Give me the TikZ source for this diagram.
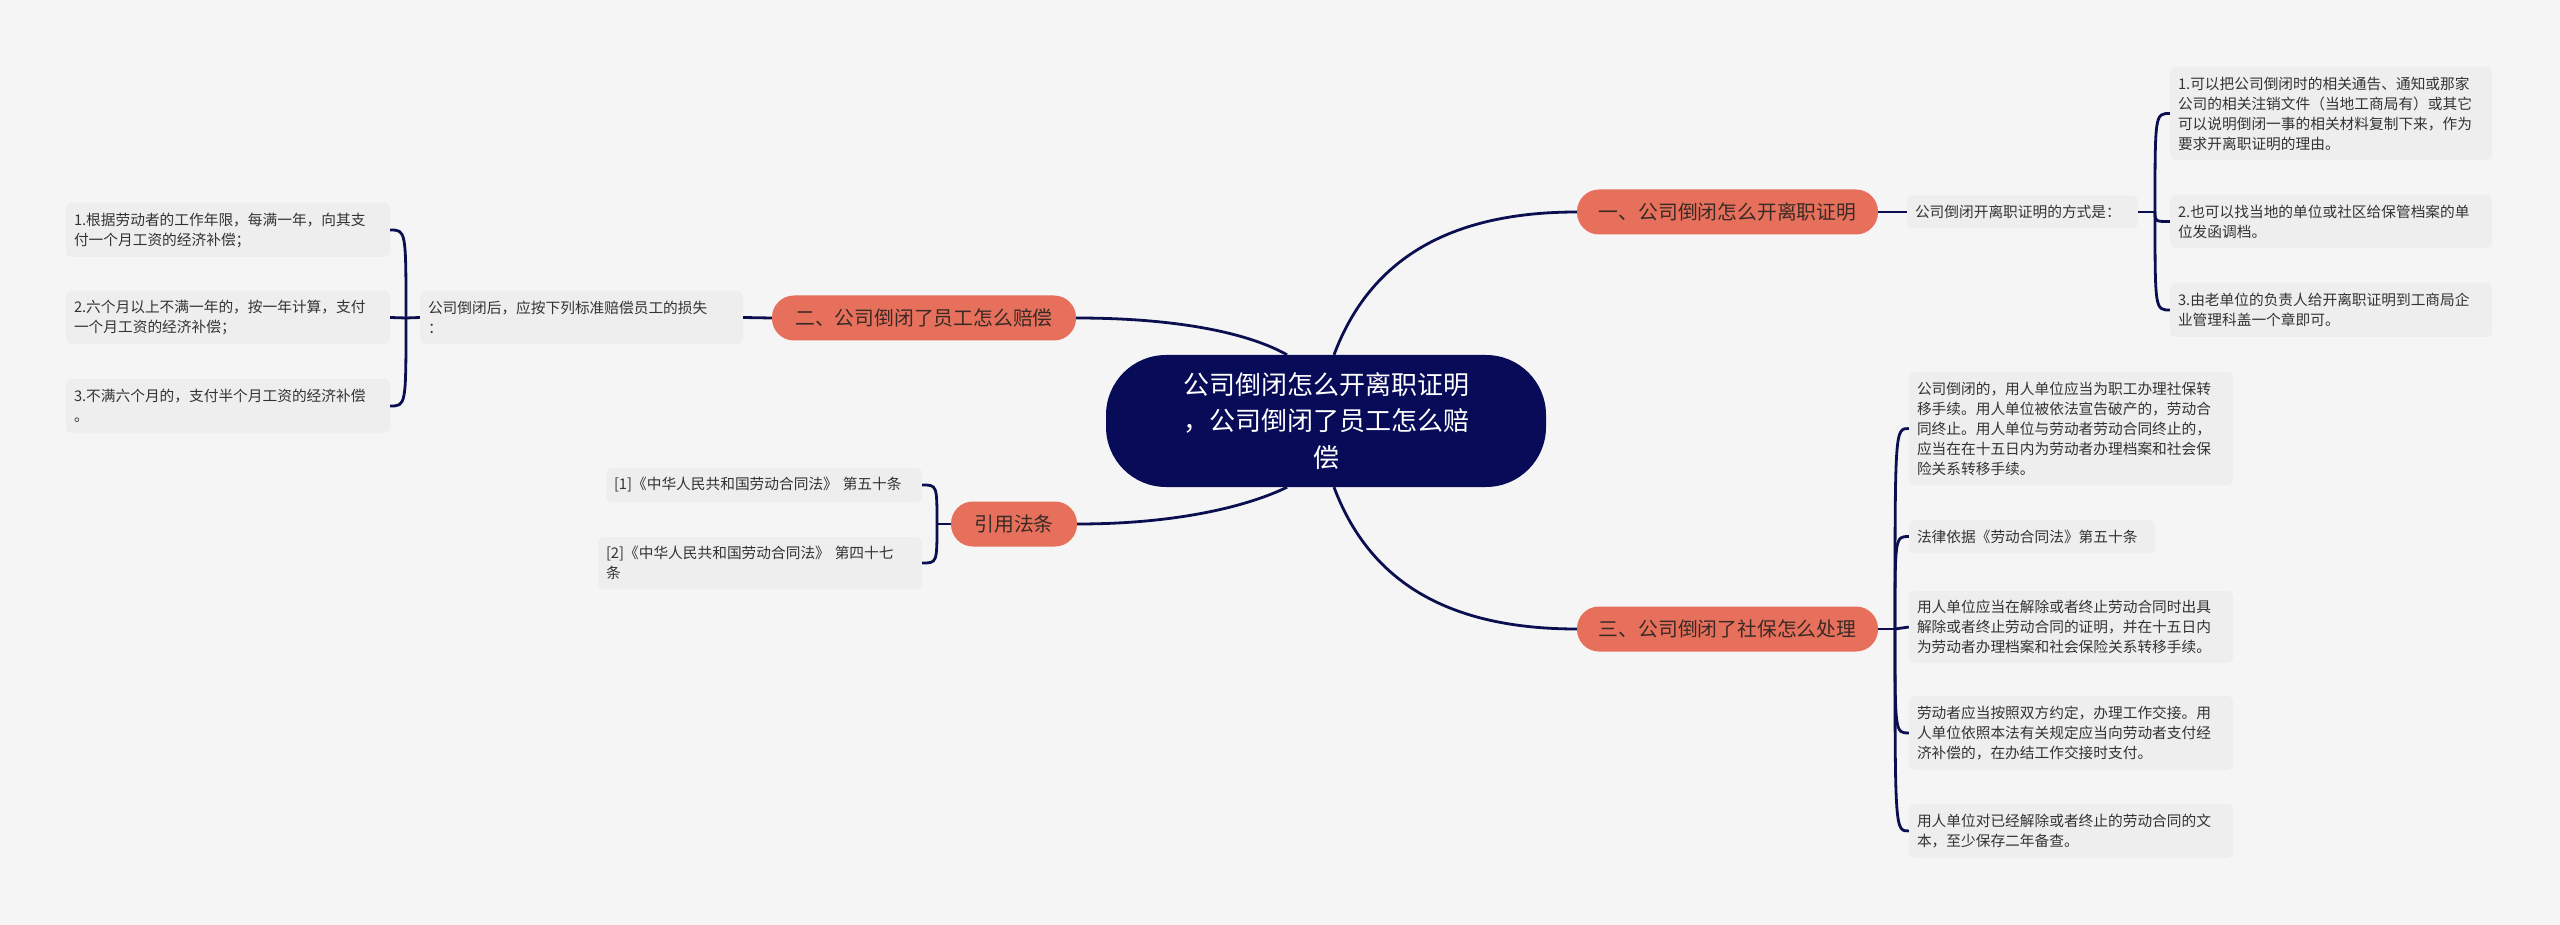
\documentclass[tikz,border=0pt]{standalone}
\usepackage{fontspec}
\newfontfamily\cjk{Noto Sans CJK SC}
\usetikzlibrary{calc}
\definecolor{bgc}{HTML}{F5F5F5}
\definecolor{leaff}{HTML}{EEEEEE}
\definecolor{leaft}{HTML}{333333}
\definecolor{brf}{HTML}{E6705B}
\definecolor{brt}{HTML}{3A2A26}
\definecolor{rootf}{HTML}{080C58}
\definecolor{linec}{HTML}{0B0F50}
\newcommand{\leaffont}{\cjk\fontsize{14.7}{20}\selectfont}
\newcommand{\brfont}{\cjk\fontsize{19.8}{24}\selectfont}
\newcommand{\rootfont}{\cjk\fontsize{26}{36.5}\selectfont}
\tikzset{
  conn/.style={draw=linec, line width=2.8pt},
  leaf/.style={fill=leaff, rounded corners=6pt, text=leaft, font=\leaffont,
    align=left, inner xsep=8pt, inner ysep=0pt},
  branchbox/.style={fill=brf, rounded corners=22pt, text=brt, font=\brfont,
    minimum height=45pt, inner sep=0pt, align=center},
  rootbox/.style={fill=rootf, rounded corners=60pt, text=white, font=\rootfont,
    minimum width=440pt, minimum height=132pt, inner sep=0pt, align=center},
}
\begin{document}
\begin{tikzpicture}[x=1pt,y=-1pt]
\useasboundingbox (0,0) rectangle (2560,925);
\fill[bgc] (0,0) rectangle (2560,925);

% root
\node[rootbox] (root) at (1326,421) {公司倒闭怎么开离职证明\\，公司倒闭了员工怎么赔\\偿};

% branches
\node[branchbox, minimum width=301pt] (b1) at (1727.5,212) {一、公司倒闭怎么开离职证明};
\node[branchbox, minimum width=304pt] (b2) at (924,318) {二、公司倒闭了员工怎么赔偿};
\node[branchbox, minimum width=301pt] (b3) at (1727.5,629) {三、公司倒闭了社保怎么处理};
\node[branchbox, minimum width=126pt] (bref) at (1014,524) {引用法条};

% right top leaves
\node[leaf, text width=215pt, minimum height=33pt] (t0) at (2022.5,212) {公司倒闭开离职证明的方式是：};
\node[leaf, text width=306pt, minimum height=93pt] (t1) at (2331,113.5) {1.可以把公司倒闭时的相关通告、通知或那家\\公司的相关注销文件（当地工商局有）或其它\\可以说明倒闭一事的相关材料复制下来，作为\\要求开离职证明的理由。};
\node[leaf, text width=306pt, minimum height=53pt] (t2) at (2331,221.5) {2.也可以找当地的单位或社区给保管档案的单\\位发函调档。};
\node[leaf, text width=306pt, minimum height=54pt] (t3) at (2331,310) {3.由老单位的负责人给开离职证明到工商局企\\业管理科盖一个章即可。};

% right bottom leaves
\node[leaf, text width=308pt, minimum height=113pt] (sa) at (2071,428.5) {公司倒闭的，用人单位应当为职工办理社保转\\移手续。用人单位被依法宣告破产的，劳动合\\同终止。用人单位与劳动者劳动合同终止的，\\应当在在十五日内为劳动者办理档案和社会保\\险关系转移手续。};
\node[leaf, text width=230pt, minimum height=33pt] (sb) at (2032,536.5) {法律依据《劳动合同法》第五十条};
\node[leaf, text width=308pt, minimum height=72pt] (sc) at (2071,627) {用人单位应当在解除或者终止劳动合同时出具\\解除或者终止劳动合同的证明，并在十五日内\\为劳动者办理档案和社会保险关系转移手续。};
\node[leaf, text width=308pt, minimum height=74pt] (sd) at (2071,733) {劳动者应当按照双方约定，办理工作交接。用\\人单位依照本法有关规定应当向劳动者支付经\\济补偿的，在办结工作交接时支付。};
\node[leaf, text width=308pt, minimum height=54pt] (se) at (2071,831) {用人单位对已经解除或者终止的劳动合同的文\\本，至少保存二年备查。};

% left top leaves
\node[leaf, text width=307pt, minimum height=53pt] (l0) at (581.5,317.5) {公司倒闭后，应按下列标准赔偿员工的损失\\：};
\node[leaf, text width=308pt, minimum height=54pt] (l1) at (228,230) {1.根据劳动者的工作年限，每满一年，向其支\\付一个月工资的经济补偿；};
\node[leaf, text width=308pt, minimum height=53pt] (l2) at (228,317.5) {2.六个月以上不满一年的，按一年计算，支付\\一个月工资的经济补偿；};
\node[leaf, text width=308pt, minimum height=54pt] (l3) at (228,406) {3.不满六个月的，支付半个月工资的经济补偿\\。};

% left bottom leaves
\node[leaf, text width=300pt, minimum height=34pt] (r1) at (764,485) {[1]《中华人民共和国劳动合同法》~第五十条};
\node[leaf, text width=308pt, minimum height=52pt] (r2) at (760,563) {[2]《中华人民共和国劳动合同法》~第四十七\\条};

% junctions
\coordinate (j1) at (2155,212);
\coordinate (j3) at (1895,629);
\coordinate (j2) at (406,318);
\coordinate (j4) at (937,524);

% main connectors
\draw[conn] ($(root.north)+(8,0)$) .. controls ($(root.north)+(44,-96)$) and ($(b1.west)+(-127,0)$) .. (b1.west);
\draw[conn] ($(root.south)+(8,0)$) .. controls ($(root.south)+(44,96)$) and ($(b3.west)+(-127,0)$) .. (b3.west);
\draw[conn] (b2.east) .. controls ($(b2.east)+(104,0)$) and ($(root.north)+(-76,-21)$) .. ($(root.north)+(-39,0)$);
\draw[conn] (bref.east) .. controls ($(bref.east)+(103,0)$) and ($(root.south)+(-76,18)$) .. ($(root.south)+(-39,0)$);

% right top group
\draw[conn] (b1.east) -- (t0.west);
\draw[conn] (t0.east) -- (j1);
\draw[conn] (j1) .. controls (j1|-t1.west) .. (t1.west);
\draw[conn] (j1) .. controls (j1|-t2.west) .. (t2.west);
\draw[conn] (j1) .. controls (j1|-t3.west) .. (t3.west);

% right bottom group
\draw[conn] (b3.east) -- (j3);
\draw[conn] (j3) .. controls (j3|-sa.west) .. (sa.west);
\draw[conn] (j3) .. controls (j3|-sb.west) .. (sb.west);
\draw[conn] (j3) -- (sc.west);
\draw[conn] (j3) .. controls (j3|-sd.west) .. (sd.west);
\draw[conn] (j3) .. controls (j3|-se.west) .. (se.west);

% left top group
\draw[conn] (b2.west) -- (l0.east);
\draw[conn] (l0.west) -- (j2);
\draw[conn] (j2) .. controls (j2|-l1.east) .. (l1.east);
\draw[conn] (j2) -- (l2.east);
\draw[conn] (j2) .. controls (j2|-l3.east) .. (l3.east);

% left bottom group
\draw[conn] (bref.west) -- (j4);
\draw[conn] (j4) .. controls (j4|-r1.east) .. (r1.east);
\draw[conn] (j4) .. controls (j4|-r2.east) .. (r2.east);
\end{tikzpicture}
\end{document}
